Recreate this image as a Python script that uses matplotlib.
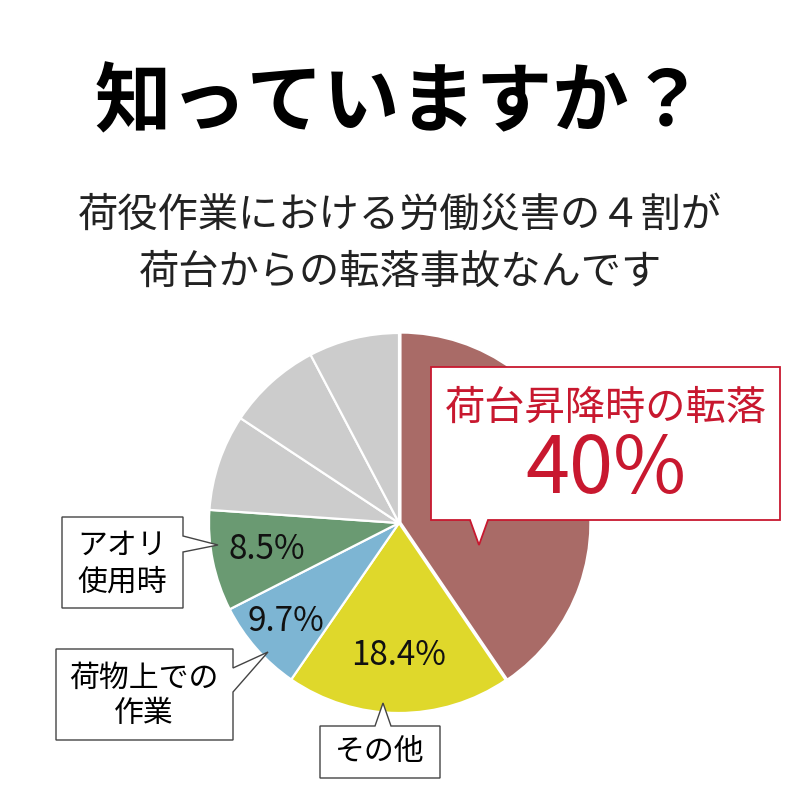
import numpy as np
import matplotlib
matplotlib.use("Agg")
from matplotlib import pyplot as plt
from matplotlib.patches import Polygon

plt.rcParams['font.family'] = ['Noto Sans CJK JP', 'DejaVu Sans']

# data (slice sizes as drawn in the picture; labels as printed)
categories = ['荷台昇降時の転落', 'その他', '荷物上での作業', 'アオリ使用時', '他1', '他2', '他3']
values = [40.5, 19.1, 7.9, 8.6, 8.2, 8.0, 7.7]
colors = ['#a96b67', '#dfd82b', '#7db5d3', '#6a9a72', '#cccccc', '#cccccc', '#cccccc']
pct_labels = ['', '18.4%', '9.7%', '8.5%', '', '', '']
pct_dist = [0, 0.70, 0.79, 0.71, 0, 0, 0]

title = '知っていますか？'
subtitle = ['荷役作業における労働災害の４割が', '荷台からの転落事故なんです']

fig = plt.figure(figsize=(8, 8), dpi=100)
W = H = 800

# pie: centre (399, 523) px, radius 190 px
cx, cy, r = 399, 523, 190
ax = fig.add_axes([(cx - r) / W, (H - cy - r) / H, 2 * r / W, 2 * r / H])
wedges, _ = ax.pie(values, colors=colors, startangle=90, counterclock=False,
                   explode=[0.008, 0, 0, 0, 0, 0, 0],
                   wedgeprops=dict(edgecolor='white', linewidth=1.6))
ax.set_xlim(-1, 1)
ax.set_ylim(-1, 1)
ax.set_aspect('equal')
for w, lab, d in zip(wedges, pct_labels, pct_dist):
    if not lab:
        continue
    ang = np.deg2rad((w.theta1 + w.theta2) / 2)
    ax.text(d * np.cos(ang), d * np.sin(ang), lab, ha='center', va='center',
            fontsize=24, color='#111111')

# overlay in pixel coordinates for titles and callouts
ov = fig.add_axes([0, 0, 1, 1], zorder=5)
ov.set_xlim(0, W)
ov.set_ylim(H, 0)
ov.axis('off')
ov.patch.set_alpha(0)

ov.text(400, 104, title, ha='center', va='center', fontsize=55, fontweight='bold')
ov.text(400, 215, subtitle[0], ha='center', va='center', fontsize=29, color='#222222')
ov.text(400, 272, subtitle[1], ha='center', va='center', fontsize=29, color='#222222')

red = '#c8182f'
box_red = [(431, 367), (780, 367), (780, 520), (488, 520), (479, 545), (470, 520), (431, 520)]
ov.add_patch(Polygon(box_red, closed=True, facecolor='white', edgecolor=red, linewidth=1.3))
ov.text(606, 408, categories[0], ha='center', va='center', fontsize=29, color=red)
ov.text(606, 471, '40%', ha='center', va='center', fontsize=57, color=red)

edge = '#444444'
box_aori = [(62, 517), (183, 517), (183, 536), (218, 545), (183, 552), (183, 608), (62, 608)]
ov.add_patch(Polygon(box_aori, closed=True, facecolor='white', edgecolor=edge, linewidth=1.0))
ov.text(122, 545, 'アオリ', ha='center', va='center', fontsize=21.5)
ov.text(122, 582, '使用時', ha='center', va='center', fontsize=21.5)

box_nimotsu = [(56, 649), (233, 649), (233, 668), (268, 652), (233, 692), (233, 740), (56, 740)]
ov.add_patch(Polygon(box_nimotsu, closed=True, facecolor='white', edgecolor=edge, linewidth=1.0))
ov.text(144, 678, '荷物上での', ha='center', va='center', fontsize=21.5)
ov.text(144, 714, '作業', ha='center', va='center', fontsize=21.5)

box_other = [(320, 726), (375, 726), (383, 703), (391, 726), (440, 726), (440, 778), (320, 778)]
ov.add_patch(Polygon(box_other, closed=True, facecolor='white', edgecolor=edge, linewidth=1.0))
ov.text(380, 751, 'その他', ha='center', va='center', fontsize=21.5)

fig.savefig('out.png', dpi=100, facecolor='white')
